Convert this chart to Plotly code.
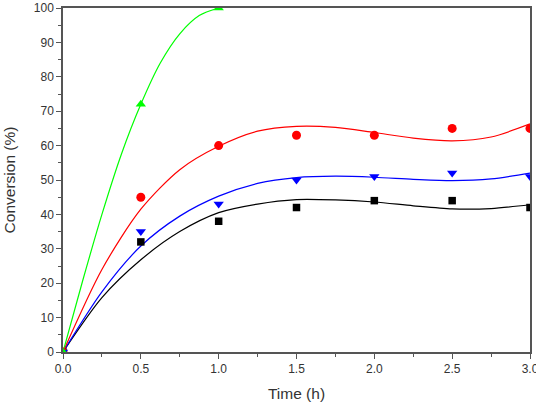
import plotly.graph_objects as go

# Measured data
time_pts = [0.0, 0.5, 1.0, 1.5, 2.0, 2.5, 3.0]
black_pts = [0, 32, 38, 42, 44, 44, 42]
red_pts = [0, 45, 60, 63, 63, 65, 65]
blue_pts = [0, 35, 43, 50, 51, 52, 51]
green_time = [0.0, 0.5, 1.0]
green_pts = [0, 72, 100]

# Fitted curves
fit_time = [0.0, 0.25, 0.5, 0.75, 1.0, 1.25, 1.5, 1.75, 2.0, 2.25, 2.5, 2.75, 3.0]
black_fit = [0, 15.8, 26.8, 35, 40.5, 43, 44.3, 44.2, 43.6, 42.5, 41.6, 41.7, 42.8]
blue_fit = [0, 17.5, 30.8, 39.5, 45.3, 49, 50.7, 51.1, 50.8, 50.2, 49.8, 50.3, 52]
red_fit = [0, 24, 41.5, 53, 59.8, 64.2, 65.6, 65.3, 63.8, 62.2, 61.4, 62.5, 66.3]
green_fit_time = [0.0, 0.125, 0.25, 0.375, 0.5, 0.625, 0.75, 0.875, 1.0]
green_fit = [0, 20.5, 40, 57.5, 72, 84, 92.5, 97.8, 100]

x_ticks = [0.0, 0.5, 1.0, 1.5, 2.0, 2.5, 3.0]
y_ticks = [0, 10, 20, 30, 40, 50, 60, 70, 80, 90, 100]

FONT = "Liberation Sans, Arial, sans-serif"

fig = go.Figure()

def add_curve(x, y, color):
    fig.add_trace(go.Scatter(x=x, y=y, mode="lines",
                             line=dict(color=color, width=1.2, shape="spline", smoothing=0.8),
                             showlegend=False, hoverinfo="skip"))

def add_pts(x, y, color, symbol, size):
    fig.add_trace(go.Scatter(x=x, y=y, mode="markers",
                             marker=dict(color=color, symbol=symbol, size=size),
                             showlegend=False))

add_curve(fit_time, black_fit, "#000000")
add_curve(fit_time, blue_fit, "#0000FF")
add_curve(fit_time, red_fit, "#FF0000")
add_curve(green_fit_time, green_fit, "#00FF00")

add_pts(time_pts, black_pts, "#000000", "square", 7.5)
add_pts(time_pts, red_pts, "#FF0000", "circle", 9)
add_pts(time_pts, blue_pts, "#0000FF", "triangle-down", 9)
add_pts(green_time, green_pts, "#00FF00", "triangle-up", 9)

axis_common = dict(
    showgrid=False, zeroline=False, showline=True, linecolor="#555555", linewidth=1.5,
    mirror=True, ticks="outside", ticklen=5, tickwidth=1.2, tickcolor="#555555",
    automargin=False, ticklabeloverflow="allow",
    tickfont=dict(family=FONT, size=12, color="#333333"),
)

fig.update_layout(
    width=536, height=402,
    margin=dict(l=63, r=6, t=8, b=50),
    paper_bgcolor="white", plot_bgcolor="white",
    xaxis=dict(range=[0, 3], tickvals=x_ticks, tickformat=".1f",
               minor=dict(dtick=0.25, ticks="outside", ticklen=3, tickcolor="#555555"),
               title=dict(text="Time (h)", standoff=24,
                          font=dict(family=FONT, size=15.5, color="#333333")),
               **axis_common),
    yaxis=dict(range=[0, 100], tickvals=y_ticks,
               minor=dict(dtick=5, ticks="outside", ticklen=3, tickcolor="#555555"),
               title=dict(text="Conversion (%)", standoff=14,
                          font=dict(family=FONT, size=15.5, color="#333333")),
               **axis_common),
)

fig.write_html("out.html")
